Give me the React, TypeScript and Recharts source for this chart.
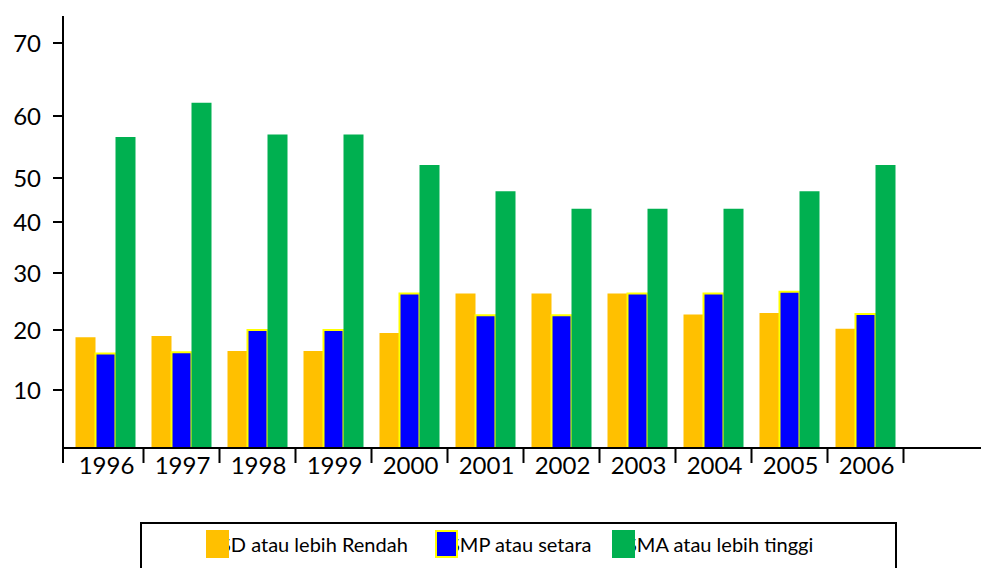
import { BarChart, Bar, XAxis, YAxis, Legend } from "recharts";

const years = ["1996", "1997", "1998", "1999", "2000", "2001", "2002", "2003", "2004", "2005", "2006"];
const sdValues = [18.8, 19.0, 16.5, 16.5, 19.5, 26.4, 26.4, 26.4, 22.7, 23.0, 20.2];
const smpValues = [16.1, 16.3, 20.0, 20.0, 26.4, 22.6, 22.6, 26.4, 26.4, 26.7, 22.8];
const smaValues = [56.6, 61.8, 57.0, 57.0, 52.1, 47.0, 43.0, 43.0, 43.0, 47.0, 52.1];
const yTicks = [10, 20, 30, 40, 50, 60, 70];

const series = [
  { key: "sd", name: "SD atau lebih Rendah", fill: "#FFC000", stroke: "none" },
  { key: "smp", name: "SMP atau setara", fill: "#0000FF", stroke: "#FFFF00" },
  { key: "sma", name: "SMA atau lebih tinggi", fill: "#00B050", stroke: "none" },
];

const data = years.map((year, i) => ({
  year,
  sd: sdValues[i],
  smp: smpValues[i],
  sma: smaValues[i],
}));

// the original axis is not evenly spaced, so map values through its tick positions
const AXIS_STOPS = [0, 10, 20, 30, 40, 50, 60, 70, 80];
const AXIS_HEIGHTS = [0, 58, 118, 175, 226, 270, 332, 405, 432];

function piecewiseScale(): any {
  let dom: number[] = [0, 80];
  let rng: number[] = [0, 1];
  const top = AXIS_HEIGHTS[AXIS_HEIGHTS.length - 1];
  const frac = (v: number) => {
    if (v <= AXIS_STOPS[0]) return 0;
    for (let i = 1; i < AXIS_STOPS.length; i++) {
      if (v <= AXIS_STOPS[i]) {
        const t = (v - AXIS_STOPS[i - 1]) / (AXIS_STOPS[i] - AXIS_STOPS[i - 1]);
        return (AXIS_HEIGHTS[i - 1] + t * (AXIS_HEIGHTS[i] - AXIS_HEIGHTS[i - 1])) / top;
      }
    }
    return 1;
  };
  const s: any = (v: number) => rng[0] + frac(Number(v)) * (rng[1] - rng[0]);
  s.domain = (d?: number[]) => {
    if (d === undefined) return dom.slice();
    dom = d.slice();
    return s;
  };
  s.range = (r?: number[]) => {
    if (r === undefined) return rng.slice();
    rng = r.slice();
    return s;
  };
  s.copy = () => piecewiseScale().domain(dom).range(rng);
  s.ticks = () => yTicks;
  s.tickFormat = () => (v: number) => String(v);
  s.nice = () => s;
  s.clamp = () => s;
  s.invert = (px: number) => {
    const f = (px - rng[0]) / (rng[1] - rng[0]);
    const h = f * top;
    for (let i = 1; i < AXIS_HEIGHTS.length; i++) {
      if (h <= AXIS_HEIGHTS[i]) {
        const t = (h - AXIS_HEIGHTS[i - 1]) / (AXIS_HEIGHTS[i] - AXIS_HEIGHTS[i - 1]);
        return AXIS_STOPS[i - 1] + t * (AXIS_STOPS[i] - AXIS_STOPS[i - 1]);
      }
    }
    return dom[1];
  };
  return s;
}

const FONT = "Lato, 'Open Sans', sans-serif";
const AXIS_Y = 448;
const HALF_BAND = 38;

function YearTick(props: any) {
  const { x, payload, index } = props;
  const last = index === years.length - 1;
  const leftX = index === 0 ? 63 : x - HALF_BAND;
  return (
    <g>
      <line x1={leftX} x2={leftX} y1={AXIS_Y} y2={AXIS_Y + 15} stroke="#000" strokeWidth={2} />
      {last && (
        <line x1={x + HALF_BAND} x2={x + HALF_BAND} y1={AXIS_Y} y2={AXIS_Y + 15} stroke="#000" strokeWidth={2} />
      )}
      <text x={x + 1} y={AXIS_Y + 26} textAnchor="middle" fontSize={24} fontFamily={FONT} fill="#000">
        {payload.value}
      </text>
    </g>
  );
}

function LegendBox(props: any) {
  const { payload } = props;
  const lefts = [64, 293, 470];
  return (
    <div
      style={{
        position: "relative",
        width: 757,
        height: 60,
        border: "2px solid #000",
        boxSizing: "border-box",
        fontFamily: FONT,
      }}
    >
      {(payload || []).map((entry: any) => {
        const idx = Math.max(0, series.findIndex((d) => d.key === entry.dataKey));
        const s = series[idx];
        return (
          <div key={s.key} style={{ position: "absolute", left: lefts[idx], top: 6 }}>
            <span
              style={{
                position: "absolute",
                left: 14,
                top: 2,
                fontSize: 20,
                whiteSpace: "nowrap",
                color: "#000",
              }}
            >
              {s.name}
            </span>
            <span
              style={{
                position: "absolute",
                left: 0,
                top: 0,
                width: 23,
                height: 28,
                background: s.fill,
                border: s.stroke !== "none" ? `2px solid ${s.stroke}` : "none",
                boxSizing: "border-box",
              }}
            />
          </div>
        );
      })}
    </div>
  );
}

export default function App() {
  return (
    <div style={{ position: "absolute", left: 0, top: 0, background: "#fff" }}>
      <BarChart
        width={981}
        height={568}
        data={data}
        margin={{ top: 16, right: 0, bottom: 0, left: 0 }}
        barGap={0}
        barSize={20}
      >
        <XAxis
          dataKey="year"
          height={120}
          tickLine={false}
          axisLine={{ stroke: "#000", strokeWidth: 2 }}
          padding={{ left: 4.5, right: 77.5 }}
          tick={<YearTick />}
          interval={0}
        />
        <YAxis
          type="number"
          width={63}
          domain={[0, 80]}
          scale={piecewiseScale()}
          ticks={yTicks}
          tickSize={10}
          tickMargin={12}
          tickLine={{ stroke: "#000", strokeWidth: 2 }}
          axisLine={{ stroke: "#000", strokeWidth: 2 }}
          tick={{ fontSize: 24, fill: "#000", fontFamily: FONT }}
          allowDataOverflow
        />
        <Legend
          layout="horizontal"
          verticalAlign="middle"
          align="center"
          content={<LegendBox />}
          wrapperStyle={{ top: 522, left: 140, width: 757, height: 60 }}
        />
        {series.map((s) => (
          <Bar
            key={s.key}
            dataKey={s.key}
            name={s.name}
            fill={s.fill}
            stroke={s.stroke}
            strokeWidth={s.stroke !== "none" ? 2 : 0}
            isAnimationActive={false}
          />
        ))}
      </BarChart>
    </div>
  );
}
